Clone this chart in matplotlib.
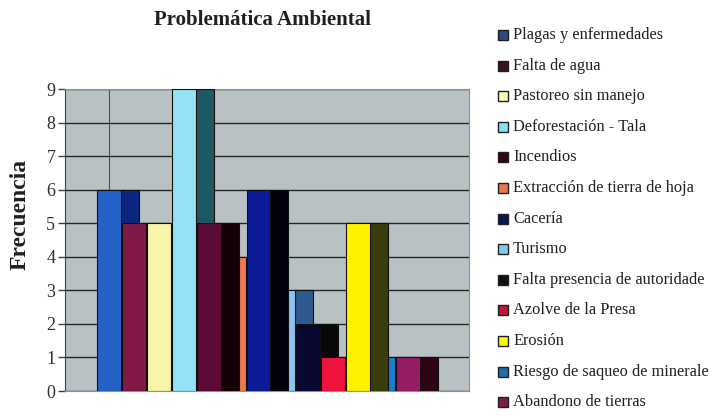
import matplotlib
matplotlib.use('Agg')
import matplotlib.pyplot as plt
import numpy as np
from matplotlib.patches import Rectangle

plt.rcParams['font.family'] = ['Liberation Serif', 'DejaVu Serif']

# series (one bar each), in legend order (labels as they show in the picture)
labels = ['Plagas y enfermedades', 'Falta de agua', 'Pastoreo sin manejo',
          'Deforestación - Tala', 'Incendios', 'Extracción de tierra de hoja',
          'Cacería', 'Turismo', 'Falta presencia de autoridade',
          'Azolve de la Presa', 'Erosión', 'Riesgo de saqueo de minerale',
          'Abandono de tierras']
freq = [6, 5, 5, 9, 5, 4, 6, 3, 2, 1, 5, 1, 1]

front_colors = ['#2462c8', '#801848', '#f8f4a8', '#94e2f6', '#5c0a36', '#f07850',
                '#0c1c98', '#8cc4f4', '#080830', '#f0143c', '#fff200', '#1a7ed0',
                '#981c64']
side_colors = ['#0c2680', '#500c28', '#b8b478', '#1e5864', '#140008', '#a04830',
               '#02020e', '#2e5a90', '#080808', '#901020', '#3a3c0c', '#104a80',
               '#2c0414']
legend_colors = ['#2c4a7c', '#3c1228', '#fffcb4', '#88e0f0', '#300418', '#e87850',
                 '#0c1450', '#88c8ec', '#0c1010', '#c01438', '#f8f800', '#1e6ca8',
                 '#7c1c48']
# bars that sit behind the side face of the previous one (3D look)
behind = {5, 7, 11}

fig = plt.figure(figsize=(7.1, 4.15), dpi=100)
ax = fig.add_axes([65/710, 1-391/415, 404/710, 302/415])
ax.set_facecolor('#b8c2c5')

start, step, w_front, w_side = 1.29, 1.0, 0.96, 0.72
x = start + np.arange(len(freq)) * step
for i, v in enumerate(freq):
    if i in behind:
        zf, zs = 2*i - 0.5, 2*i - 0.6
    else:
        zf, zs = 3 + 2*i, 2 + 2*i
    ax.bar(x[i] + w_front, v, width=w_side, align='edge', color=side_colors[i],
           edgecolor='#101010', linewidth=0.8, zorder=zs)
    ax.bar(x[i], v, width=w_front, align='edge', color=front_colors[i],
           edgecolor='#101010', linewidth=0.8, zorder=zf)

ax.set_xlim(0, 404/24.9)
ax.set_ylim(0, 9)
ax.set_yticks(range(10))
ax.set_xticks([])
ax.yaxis.grid(True, color='#262626', linewidth=1.0, zorder=0)
ax.axvline(44/24.9, color='#505050', linewidth=0.8, zorder=0.5)
ax.set_axisbelow(True)
ax.tick_params(axis='y', direction='out', length=5, width=1, color='#404040',
               labelsize=13, labelcolor='#303030', pad=2)
for s in ax.spines.values():
    s.set_color('#909090')
    s.set_linewidth(0.8)
ax.spines['left'].set_color('#404040')

ax.set_ylabel('Frecuencia', fontsize=17, fontweight='bold', color='#202020', va='center')
ax.yaxis.set_label_coords(-0.111, 0.583)
fig.text(263/710, 1-20/415, 'Problemática Ambiental', fontsize=15, fontweight='bold',
         ha='center', va='center', color='#202020')

# legend drawn by hand on the right
for k, lab in enumerate(labels):
    yc = 1 - (35 + k*30.6) / 415
    fig.patches.append(Rectangle((498/710, yc - 5/415), 10/710, 10/415,
                                 transform=fig.transFigure, facecolor=legend_colors[k],
                                 edgecolor='#202020', linewidth=1.0))
    fig.text(513/710, yc, lab, fontsize=11.8, ha='left', va='center', color='#202020')

fig.savefig('out.png', dpi=100)
